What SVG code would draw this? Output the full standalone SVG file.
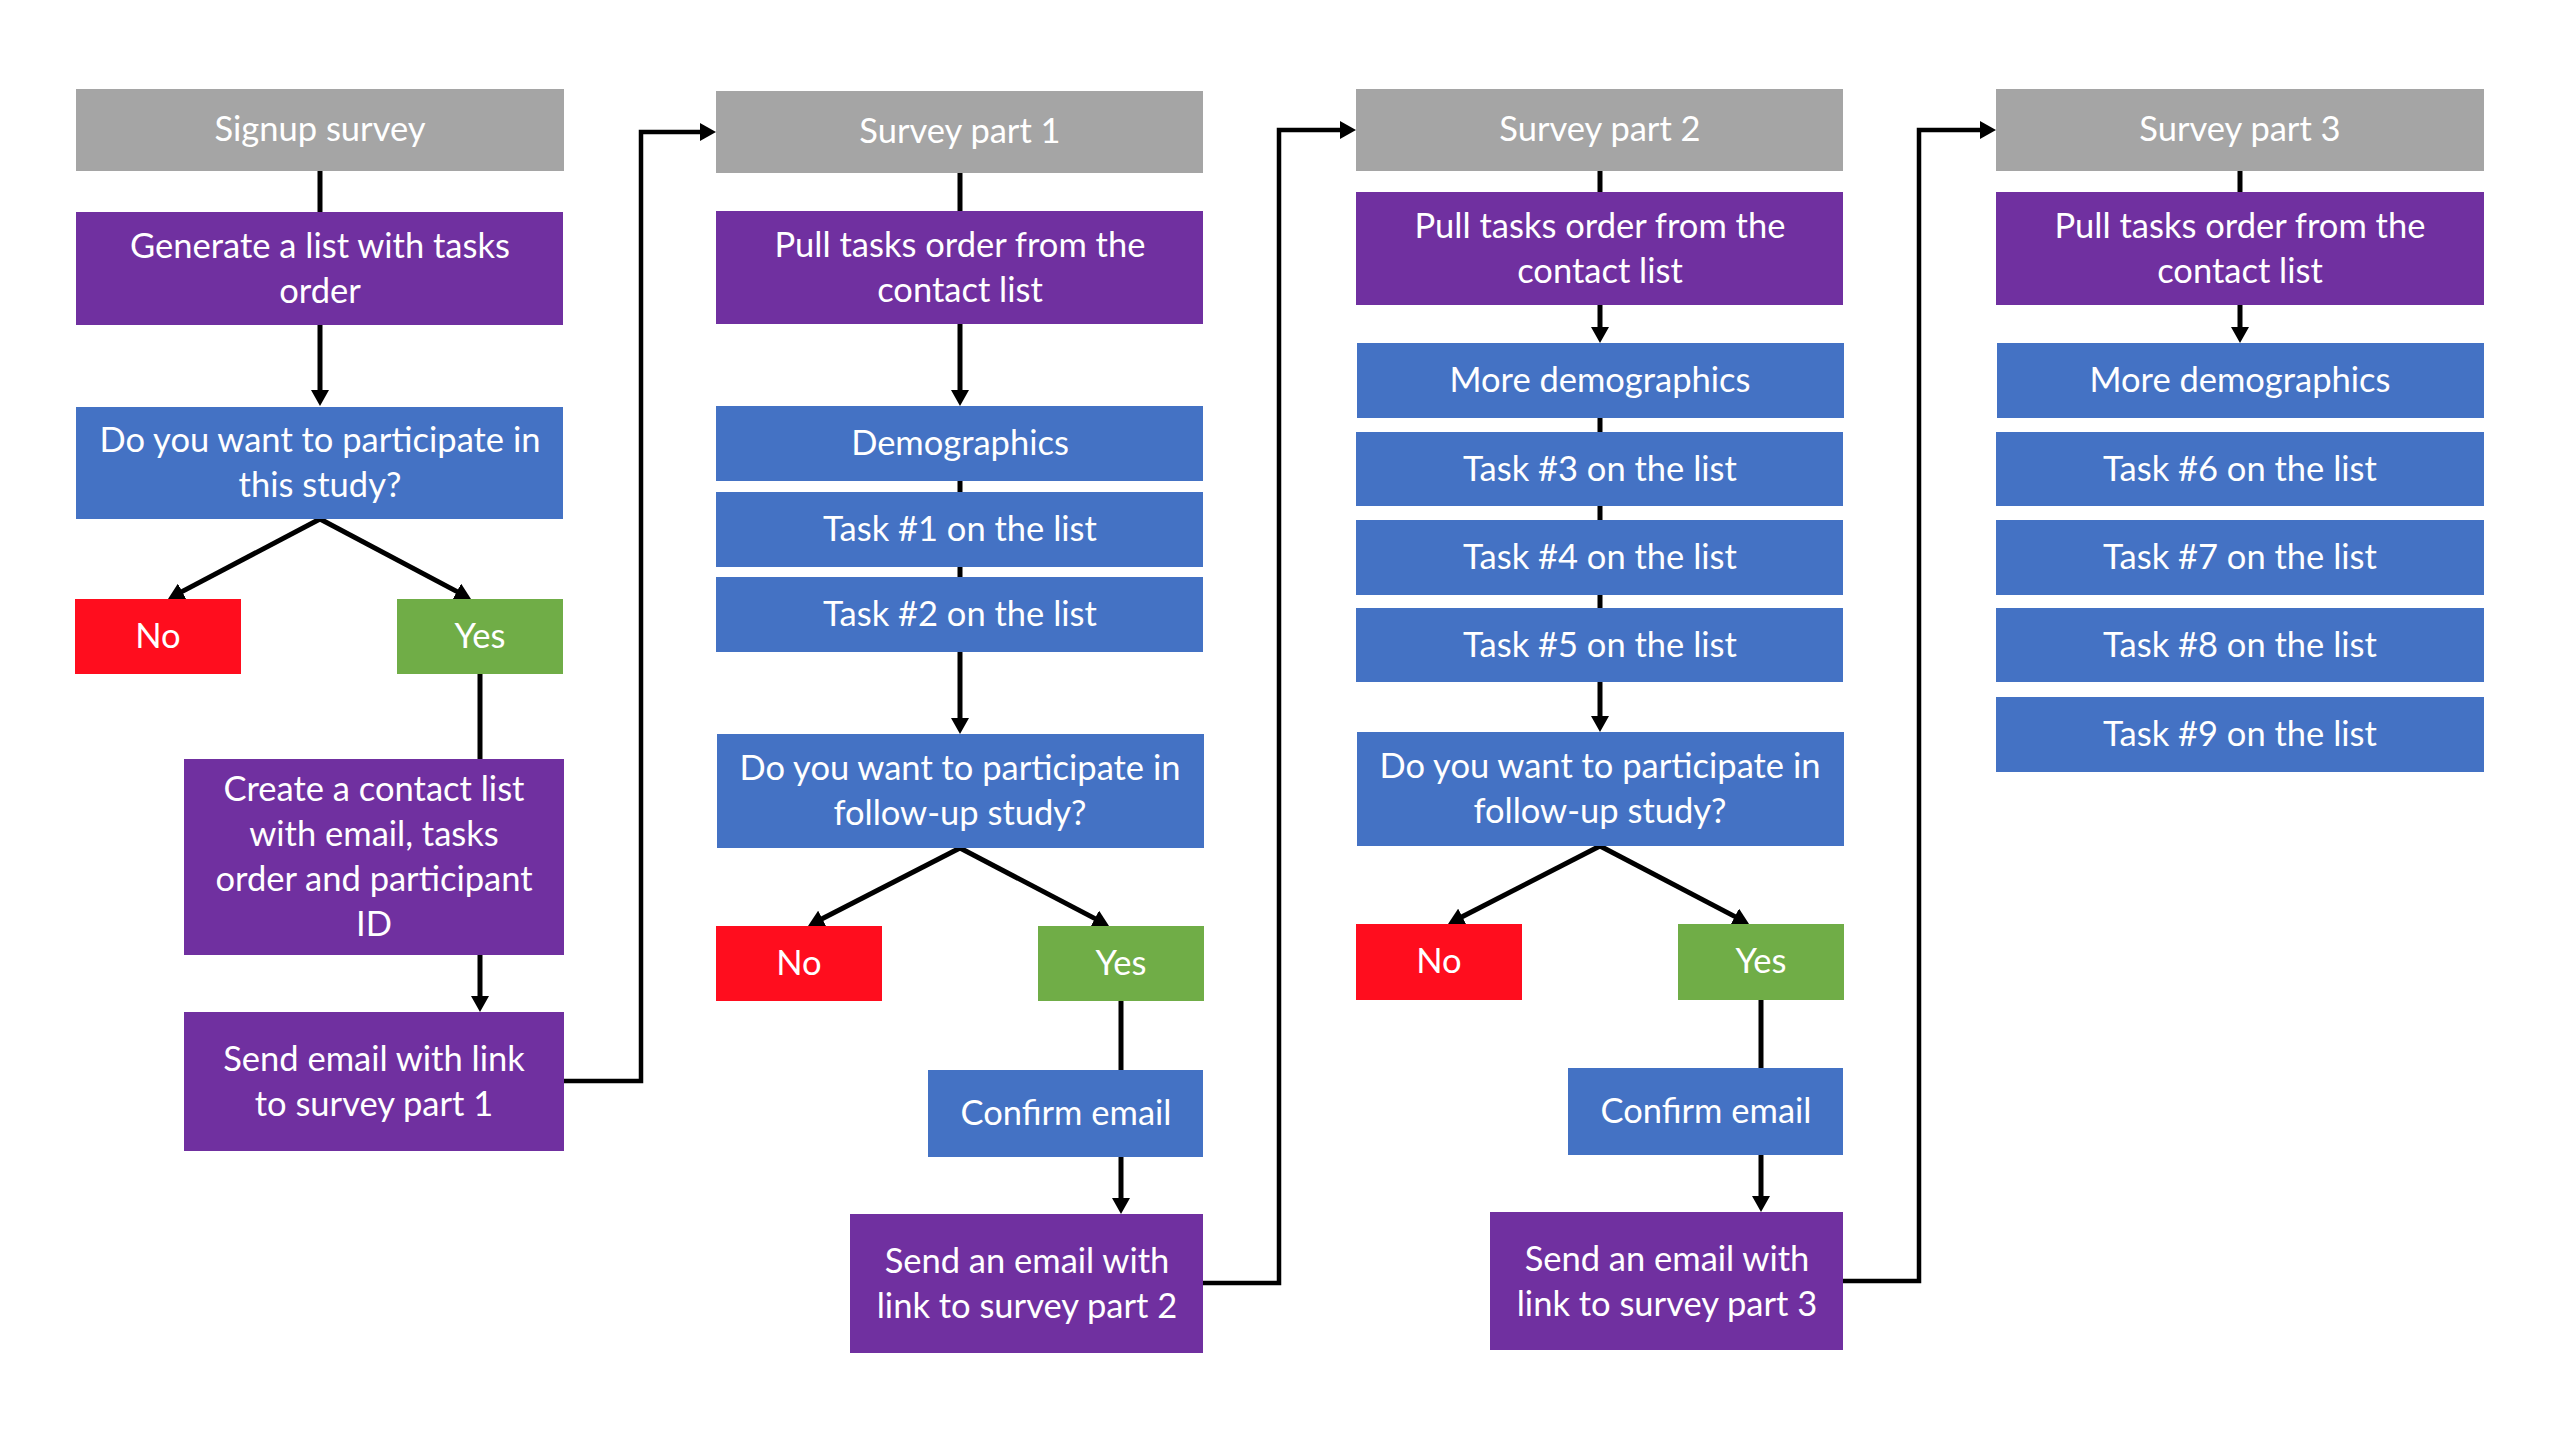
<svg xmlns="http://www.w3.org/2000/svg" width="2560" height="1438" viewBox="0 0 2560 1438">
<style>
.g{fill:#A5A5A5}.p{fill:#7030A0}.b{fill:#4472C4}.r{fill:#FF0D1E}.gr{fill:#70AD47}
text{fill:#FFFFFF;font-family:Lato,"Liberation Sans",sans-serif;font-size:34.5px;text-anchor:middle}
.c{stroke:#000;stroke-width:5;fill:none}
.e{stroke:#000;stroke-width:4.5;fill:none}
</style>
<defs>
<marker id="ah" markerUnits="userSpaceOnUse" markerWidth="18" markerHeight="18" refX="4" refY="9" orient="auto" viewBox="0 0 18 18">
<path d="M0,0 L16,9 L0,18 z" fill="#000"/>
</marker>
</defs>
<rect width="2560" height="1438" fill="#FFFFFF"/>
<g id="connectors">
<path class="c" d="M320,171 V212"/>
<path class="c" d="M320,325 V394" marker-end="url(#ah)"/>
<path class="c" d="M320,519 L178.6,593.4" marker-end="url(#ah)"/>
<path class="c" d="M320,519 L460.4,593.4" marker-end="url(#ah)"/>
<path class="c" d="M480,674 V759"/>
<path class="c" d="M480,955 V1000" marker-end="url(#ah)"/>
<path class="e" d="M564,1081 H641 V132 H704" marker-end="url(#ah)"/>
<path class="c" d="M960,173 V211"/>
<path class="c" d="M960,324 V394" marker-end="url(#ah)"/>
<path class="c" d="M960,481 V492 M960,567 V577"/>
<path class="c" d="M960,652 V722" marker-end="url(#ah)"/>
<path class="c" d="M960,848 L818.7,920.5" marker-end="url(#ah)"/>
<path class="c" d="M960,848 L1098.4,920.4" marker-end="url(#ah)"/>
<path class="c" d="M1121,1001 V1070"/>
<path class="c" d="M1121,1157 V1202" marker-end="url(#ah)"/>
<path class="e" d="M1203,1283 H1279 V130 H1344" marker-end="url(#ah)"/>
<path class="c" d="M1600,171 V192"/>
<path class="c" d="M1600,305 V331" marker-end="url(#ah)"/>
<path class="c" d="M1600,418 V432 M1600,506 V520 M1600,595 V608"/>
<path class="c" d="M1600,682 V720" marker-end="url(#ah)"/>
<path class="c" d="M1600,846 L1458.7,918.5" marker-end="url(#ah)"/>
<path class="c" d="M1600,846 L1738.4,918.4" marker-end="url(#ah)"/>
<path class="c" d="M1761,1000 V1068"/>
<path class="c" d="M1761,1155 V1200" marker-end="url(#ah)"/>
<path class="e" d="M1843,1281 H1919 V130 H1984" marker-end="url(#ah)"/>
<path class="c" d="M2240,171 V192"/>
<path class="c" d="M2240,305 V331" marker-end="url(#ah)"/>
</g>
<g id="signup"><rect class="g" x="76" y="89" width="488" height="82"/><text x="320" y="141">Signup survey</text></g>
<g id="generate"><rect class="p" x="76" y="212" width="487" height="113"/><text x="320" y="258">Generate a list with tasks</text><text x="320" y="303">order</text></g>
<g id="q1"><rect class="b" x="76" y="407" width="487" height="112"/><text x="320" y="452">Do you want to participate in</text><text x="320" y="497">this study?</text></g>
<g id="no1"><rect class="r" x="75" y="599" width="166" height="75"/><text x="158" y="648">No</text></g>
<g id="yes1"><rect class="gr" x="397" y="599" width="166" height="75"/><text x="480" y="648">Yes</text></g>
<g id="create"><rect class="p" x="184" y="759" width="380" height="196"/><text x="374" y="801">Create a contact list</text><text x="374" y="846">with email, tasks</text><text x="374" y="891">order and participant</text><text x="374" y="936">ID</text></g>
<g id="send1"><rect class="p" x="184" y="1012" width="380" height="139"/><text x="374" y="1071">Send email with link</text><text x="374" y="1116">to survey part 1</text></g>

<g id="survey1"><rect class="g" x="716" y="91" width="487" height="82"/><text x="960" y="143">Survey part 1</text></g>
<g id="pull1"><rect class="p" x="716" y="211" width="487" height="113"/><text x="960" y="257">Pull tasks order from the</text><text x="960" y="302">contact list</text></g>
<g id="demo1"><rect class="b" x="716" y="406" width="487" height="75"/><text x="960" y="455">Demographics</text></g>
<g id="task1"><rect class="b" x="716" y="492" width="487" height="75"/><text x="960" y="541">Task #1 on the list</text></g>
<g id="task2"><rect class="b" x="716" y="577" width="487" height="75"/><text x="960" y="626">Task #2 on the list</text></g>
<g id="q2"><rect class="b" x="717" y="734" width="487" height="114"/><text x="960" y="780">Do you want to participate in</text><text x="960" y="825">follow-up study?</text></g>
<g id="no2"><rect class="r" x="716" y="926" width="166" height="75"/><text x="799" y="975">No</text></g>
<g id="yes2"><rect class="gr" x="1038" y="926" width="166" height="75"/><text x="1121" y="975">Yes</text></g>
<g id="confirm2"><rect class="b" x="928" y="1070" width="275" height="87"/><text x="1066" y="1125">Confirm email</text></g>
<g id="send2"><rect class="p" x="850" y="1214" width="353" height="139"/><text x="1027" y="1273">Send an email with</text><text x="1027" y="1318">link to survey part 2</text></g>

<g id="survey2"><rect class="g" x="1356" y="89" width="487" height="82"/><text x="1600" y="141">Survey part 2</text></g>
<g id="pull2"><rect class="p" x="1356" y="192" width="487" height="113"/><text x="1600" y="238">Pull tasks order from the</text><text x="1600" y="283">contact list</text></g>
<g id="moredemo2"><rect class="b" x="1357" y="343" width="487" height="75"/><text x="1600" y="392">More demographics</text></g>
<g id="task3"><rect class="b" x="1356" y="432" width="487" height="74"/><text x="1600" y="481">Task #3 on the list</text></g>
<g id="task4"><rect class="b" x="1356" y="520" width="487" height="75"/><text x="1600" y="569">Task #4 on the list</text></g>
<g id="task5"><rect class="b" x="1356" y="608" width="487" height="74"/><text x="1600" y="657">Task #5 on the list</text></g>
<g id="q3"><rect class="b" x="1357" y="732" width="487" height="114"/><text x="1600" y="778">Do you want to participate in</text><text x="1600" y="823">follow-up study?</text></g>
<g id="no3"><rect class="r" x="1356" y="924" width="166" height="76"/><text x="1439" y="973">No</text></g>
<g id="yes3"><rect class="gr" x="1678" y="924" width="166" height="76"/><text x="1761" y="973">Yes</text></g>
<g id="confirm3"><rect class="b" x="1568" y="1068" width="275" height="87"/><text x="1706" y="1123">Confirm email</text></g>
<g id="send3"><rect class="p" x="1490" y="1212" width="353" height="138"/><text x="1667" y="1271">Send an email with</text><text x="1667" y="1316">link to survey part 3</text></g>

<g id="survey3"><rect class="g" x="1996" y="89" width="488" height="82"/><text x="2240" y="141">Survey part 3</text></g>
<g id="pull3"><rect class="p" x="1996" y="192" width="488" height="113"/><text x="2240" y="238">Pull tasks order from the</text><text x="2240" y="283">contact list</text></g>
<g id="moredemo3"><rect class="b" x="1997" y="343" width="487" height="75"/><text x="2240" y="392">More demographics</text></g>
<g id="task6"><rect class="b" x="1996" y="432" width="488" height="74"/><text x="2240" y="481">Task #6 on the list</text></g>
<g id="task7"><rect class="b" x="1996" y="520" width="488" height="75"/><text x="2240" y="569">Task #7 on the list</text></g>
<g id="task8"><rect class="b" x="1996" y="608" width="488" height="74"/><text x="2240" y="657">Task #8 on the list</text></g>
<g id="task9"><rect class="b" x="1996" y="697" width="488" height="75"/><text x="2240" y="746">Task #9 on the list</text></g>
</svg>
